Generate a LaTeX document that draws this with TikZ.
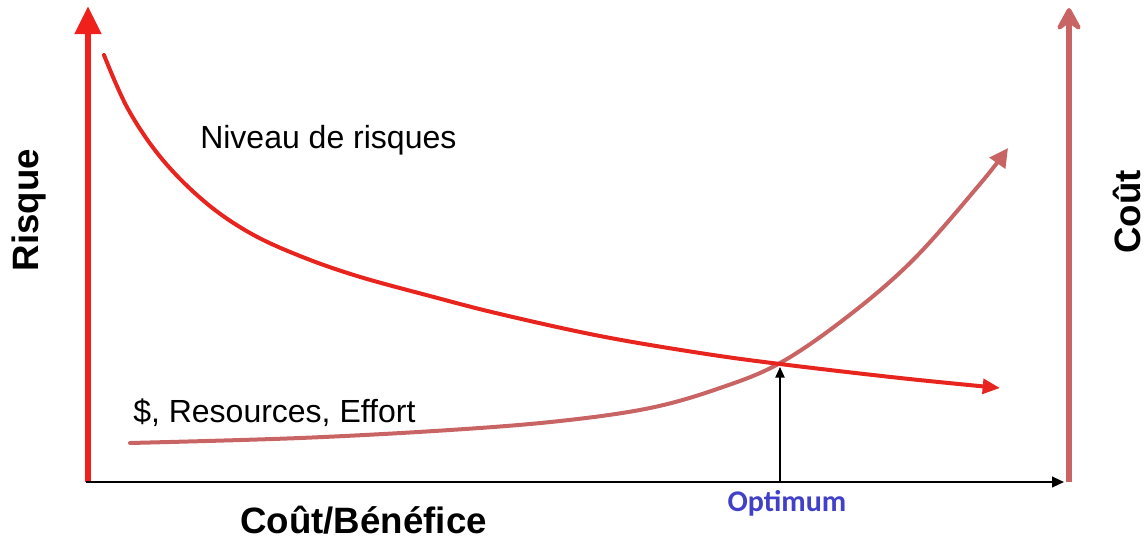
\documentclass[tikz,border=0pt]{standalone}
\usepackage{fontspec}
\setmainfont{Liberation Sans}
\newfontfamily\optfont{Carlito}
\usetikzlibrary{arrows.meta}
\definecolor{riskred}{RGB}{232,36,30}
\definecolor{axisred}{RGB}{240,32,28}
\definecolor{costrose}{RGB}{200,100,100}
\definecolor{optblue}{RGB}{64,64,200}
\tikzset{
  lbl/.style={font=\fontsize{24pt}{28pt}\selectfont, inner sep=0pt},
  axlbl/.style={font=\bfseries\fontsize{27.5pt}{32pt}\selectfont, inner sep=0pt},
}
\begin{document}
\begin{tikzpicture}[x=0.75pt,y=-0.75pt]
\useasboundingbox (0,0) rectangle (1148,539);
% coordinates
\coordinate (o) at (88,482);
\coordinate (ytop) at (88,6);
\coordinate (xend) at (1064,482);
\coordinate (rbot) at (1069,482);
\coordinate (rtop) at (1069,8);
\coordinate (optbase) at (780,481);
\coordinate (opttip) at (780,367);
% axes
\draw[line width=5pt, axisred, -{Triangle[length=21pt,width=19pt]}] (88,482) -- (ytop);
\draw[line width=1.6pt, black, -{Triangle[length=9pt,width=8pt]}] (86,482) -- (xend);
\draw[line width=4.5pt, costrose, -{Stealth[length=22pt,width=24pt,inset=9pt,round]}] (rbot) -- (rtop);
% curves
\draw[line width=3pt, costrose, -{Triangle[length=14pt,width=14pt]}, line cap=round]
  plot[smooth, tension=0.6] coordinates {(130,443) (300,438) (450,430) (560,421) (650,408) (720,388) (780,363) (847,317) (913,260) (980,184) (1008,148)};
\draw[line width=3pt, riskred, -{Triangle[length=13pt,width=11pt]}, line cap=round]
  plot[smooth, tension=0.6] coordinates {(104,55) (128,109) (162,159) (205,202) (250,233) (300,256) (357,276) (430,296) (500,314) (600,336) (700,353) (780,364) (900,378) (1000,388)};
% optimum arrow
\draw[line width=1.2pt, black, -{Triangle[length=8pt,width=7pt]}] (optbase) -- (opttip);
% labels
\node[lbl, anchor=west] (niv) at (200,140) {Niveau de risques};
\node[lbl, anchor=west] (res) at (133,413) {\$, Resources, Effort};
\node[axlbl, rotate=90] (risque) at (29,210) {Risque};
\node[axlbl, rotate=90] (cout) at (1127,212) {Coût};
\node[axlbl, anchor=west] (cb) at (240,520) {Coût/Bénéfice};
\node[font=\optfont\bfseries\fontsize{22.5pt}{26pt}\selectfont, text=optblue, inner sep=0pt] (opt) at (787,503) {Optimum};
\end{tikzpicture}
\end{document}
